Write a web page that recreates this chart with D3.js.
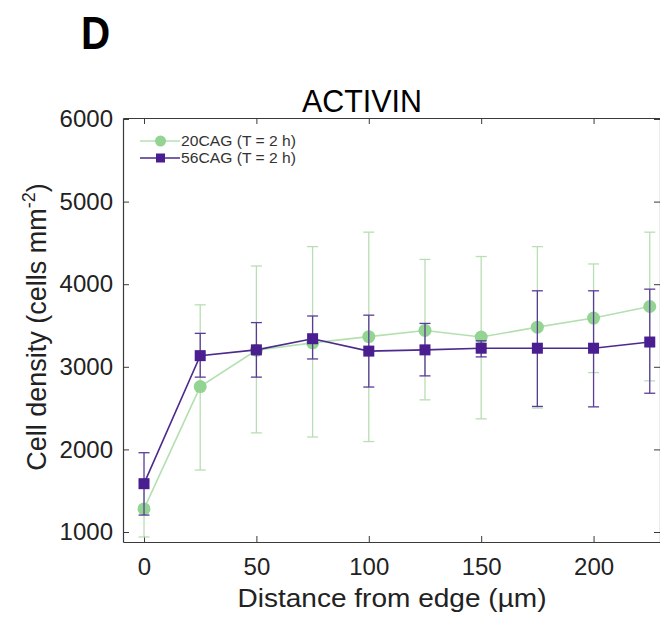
<!DOCTYPE html>
<html><head><meta charset="utf-8">
<script src="https://cdn.jsdelivr.net/npm/d3@7/dist/d3.min.js"></script>
<style>body{margin:0;background:#fff}svg{display:block}</style>
</head><body>
<svg id="c" width="660" height="620"></svg>
<script>
const distances = [0, 25, 50, 75, 100, 125, 150, 175, 200, 225];
const cag20Mean = [1280, 2760, 3200, 3290, 3365, 3440, 3360, 3480, 3590, 3730];
const cag20Low  = [940, 1750, 2200, 2150, 2095, 2600, 2370, 2500, 2930, 2830];
const cag20High = [1620, 3750, 4220, 4455, 4630, 4300, 4335, 4455, 4245, 4630];
const cag56Mean = [1585, 3135, 3205, 3340, 3190, 3205, 3225, 3225, 3225, 3300];
const cag56Low  = [1205, 2875, 2875, 3095, 2755, 2890, 3120, 2520, 2515, 2680];
const cag56High = [1960, 3405, 3535, 3615, 3625, 3525, 3315, 3920, 3920, 3940];
const xTicks = [0, 50, 100, 150, 200];
const yTicks = [1000, 2000, 3000, 4000, 5000, 6000];
const seriesNames = ["20CAG (T = 2 h)", "56CAG (T = 2 h)"];

const svg = d3.select("#c");
const L = 123, T = 118, R = 661, B = 542;
const x = d3.scaleLinear().domain([-9.35, 230]).range([L, R]);
const y = d3.scaleLinear().domain([879, 6012]).range([B, T]);
const font = "'Liberation Sans', Arial, sans-serif";
const axisCol = "#3a3a3a";

svg.append("text").attr("transform", "translate(81,49) scale(0.86,1)").attr("font-family", font)
  .attr("font-weight", "bold").attr("font-size", 47).attr("fill", "#000").text("D");
svg.append("text").attr("x", 362).attr("y", 111.5).attr("text-anchor", "middle")
  .attr("font-family", font).attr("font-size", 32).attr("textLength", 120).attr("lengthAdjust", "spacingAndGlyphs")
  .attr("fill", "#000").text("ACTIVIN");

// axes
const fmt = d3.format("d");
const gB = svg.append("g").attr("transform", `translate(0,${B})`)
  .call(d3.axisBottom(x).tickValues(xTicks).tickFormat(fmt).tickSizeInner(-6).tickSizeOuter(0).tickPadding(16));
const gT = svg.append("g").attr("transform", `translate(0,${T})`)
  .call(d3.axisTop(x).tickValues(xTicks).tickSizeInner(-6).tickSizeOuter(0).tickFormat(""));
const gL = svg.append("g").attr("transform", `translate(${L},0)`)
  .call(d3.axisLeft(y).tickValues(yTicks).tickFormat(fmt).tickSizeInner(-6).tickSizeOuter(0).tickPadding(10));
const gR = svg.append("g").attr("transform", `translate(${R - 1},0)`)
  .call(d3.axisRight(y).tickValues(yTicks).tickSizeInner(-6).tickSizeOuter(0).tickFormat(""));
[gB, gT, gL, gR].forEach(g => {
  g.selectAll("path").attr("stroke", axisCol).attr("stroke-width", 1.2);
  g.selectAll("line").attr("stroke", axisCol).attr("stroke-width", 1);
  g.selectAll("text").attr("font-family", font).attr("font-size", 24).attr("fill", "#222");
});

svg.append("text").attr("x", 392).attr("y", 607).attr("text-anchor", "middle")
  .attr("font-family", font).attr("font-size", 25).attr("textLength", 309).attr("lengthAdjust", "spacingAndGlyphs")
  .attr("fill", "#222").text("Distance from edge (µm)");
const yl = svg.append("text").attr("transform", `translate(46,${327}) rotate(-90)`)
  .attr("text-anchor", "middle").attr("font-family", font).attr("font-size", 27).attr("fill", "#222");
yl.append("tspan").text("Cell density (cells mm");
yl.append("tspan").attr("dy", -11).attr("font-size", 18).text("-2");
yl.append("tspan").attr("dy", 11).text(")");

const series = [
  {mean: cag20Mean, lo: cag20Low, hi: cag20High, line: "#b4e0b0", err: "#b9deb4", mark: "#93d492", shape: "circle"},
  {mean: cag56Mean, lo: cag56Low, hi: cag56High, line: "#4b2a8c", err: "#5a3c98", mark: "#4a1d91", shape: "square"}
];
const line = d3.line().x((d, i) => x(distances[i])).y(d => y(d));

series.forEach(s => {
  const g = svg.append("g");
  distances.forEach((dv, i) => {
    const cx = x(dv);
    g.append("line").attr("x1", cx).attr("x2", cx).attr("y1", y(s.lo[i])).attr("y2", y(s.hi[i]))
      .attr("stroke", s.err).attr("stroke-width", 1.3);
    [s.lo[i], s.hi[i]].forEach(v => g.append("line").attr("x1", cx - 5.5).attr("x2", cx + 5.5)
      .attr("y1", y(v)).attr("y2", y(v)).attr("stroke", s.err).attr("stroke-width", 1.3));
  });
  g.append("path").datum(s.mean).attr("d", line).attr("fill", "none")
    .attr("stroke", s.line).attr("stroke-width", 1.6);
  s.mean.forEach((v, i) => {
    if (s.shape === "circle") g.append("circle").attr("cx", x(distances[i])).attr("cy", y(v)).attr("r", 6.5).attr("fill", s.mark);
    else g.append("rect").attr("x", x(distances[i]) - 5.5).attr("y", y(v) - 5.5).attr("width", 11).attr("height", 11).attr("fill", s.mark);
  });
});

// legend
const leg = svg.append("g");
series.forEach((s, i) => {
  const ly = 141 + i * 17;
  leg.append("line").attr("x1", 140).attr("x2", 180).attr("y1", ly).attr("y2", ly).attr("stroke", s.line).attr("stroke-width", 1.5);
  if (s.shape === "circle") leg.append("circle").attr("cx", 160.5).attr("cy", ly).attr("r", 5.5).attr("fill", s.mark);
  else leg.append("rect").attr("x", 156).attr("y", ly - 4.5).attr("width", 9).attr("height", 9).attr("fill", s.mark);
  leg.append("text").attr("x", 181).attr("y", ly + 5).attr("font-family", font).attr("font-size", 14)
    .attr("textLength", 115).attr("lengthAdjust", "spacingAndGlyphs")
    .attr("fill", "#333").text(seriesNames[i]);
});
</script>
</body></html>
